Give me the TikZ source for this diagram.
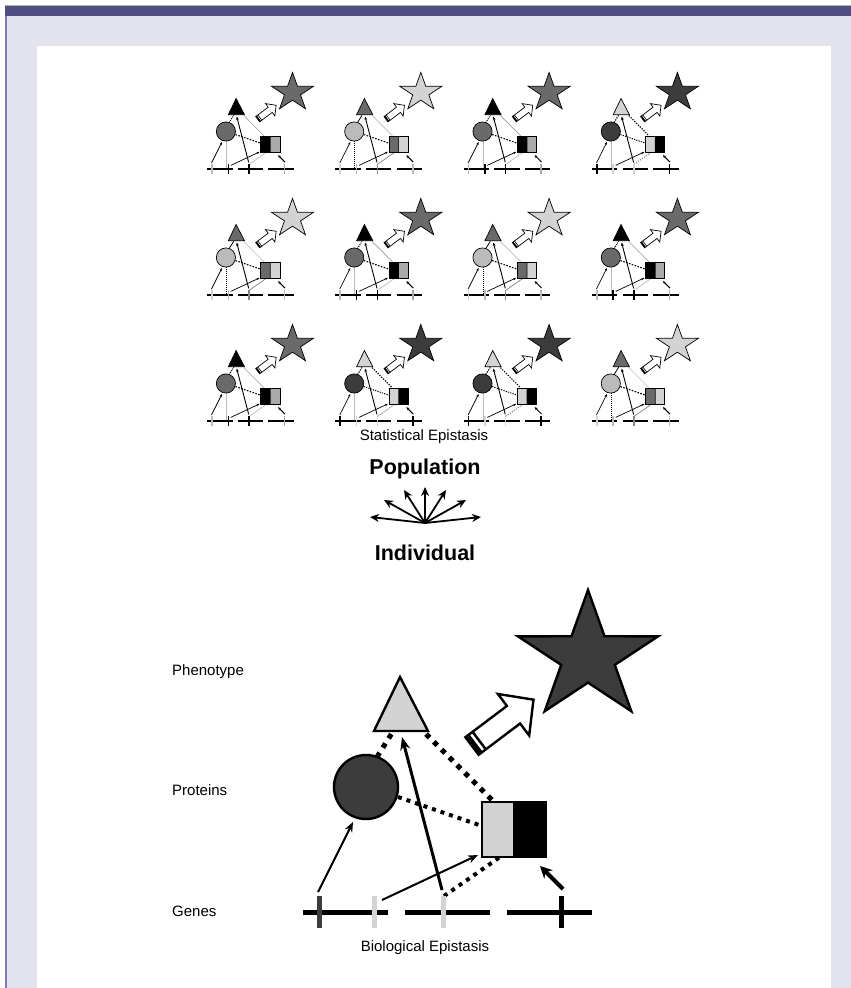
\documentclass[tikz,border=0pt]{standalone}
\usepackage{fontspec}
\setmainfont{Liberation Sans}
\usetikzlibrary{arrows.meta}
\definecolor{barcol}{HTML}{4F4E82}
\definecolor{lav}{HTML}{E3E3ED}
\definecolor{edgecol}{HTML}{7D7BAE}
\definecolor{dk}{HTML}{3C3C3C}
\definecolor{lt}{HTML}{D3D3D3}
\definecolor{md}{HTML}{6A6A6A}
\definecolor{ma}{HTML}{AAAAAA}
\definecolor{mb}{HTML}{BBBBBB}
\definecolor{mc}{HTML}{888888}
% diagram drawn in big-diagram coordinates; #1 = name prefix
\newcommand\diag[1]{%
  \coordinate (#1T1) at (400,677);\coordinate (#1T2) at (428,731);\coordinate (#1T3) at (374,731);
  \coordinate (#1C) at (366,787);
  \coordinate (#1R1) at (482,802);\coordinate (#1R2) at (514,857);\coordinate (#1R3) at (546,802);
  \coordinate (#1ctA) at (377,757);\coordinate (#1ctB) at (392,733);
  \coordinate (#1trA) at (426,734);\coordinate (#1trB) at (493,801);
  \coordinate (#1crA) at (398,797);\coordinate (#1crB) at (482,826);
  \coordinate (#1grA) at (444,896);\coordinate (#1grB) at (500,857);
  \coordinate (#1cvA) at (368,819);\coordinate (#1cvB) at (368,910);
  \draw[cv] (#1cvA) -- (#1cvB);
  \draw[ct] (#1ctA) -- (#1ctB);
  \draw[tr] (#1trA) -- (#1trB);
  \draw[cr] (#1crA) -- (#1crB);
  \draw[gr] (#1grA) -- (#1grB);
  \begin{scope}[shift={(588,657)},xscale=1.1,yscale=-1]
    \draw[outl,fill=starcol] (90:67) -- (126:25.6) -- (162:67) -- (198:25.6) -- (234:67) -- (270:25.6) -- (306:67) -- (342:25.6) -- (18:67) -- (54:25.6) -- cycle;
  \end{scope}
  \begin{scope}[shift={(472,746)},rotate=37]
    \draw[outl,fill=white] (0,-11) -- (52,-11) -- (52,-26) -- (77,0) -- (52,26) -- (52,11) -- (0,11) -- cycle;
    \fill[black] (0,-11) rectangle (5,11);
    \draw[taill] (9,-11) -- (9,11);
  \end{scope}
  \draw[outl,fill=tricol] (#1T1) -- (#1T2) -- (#1T3) -- cycle;
  \draw[outl,fill=circol] (#1C) circle[radius=32];
  \fill[rlcol] (482,802) rectangle (514,857);
  \fill[rrcol] (514,802) rectangle (546,857);
  \draw[outl] (#1R2) -- (514,802);
  \draw[outl] (482,802) rectangle (546,857);
  \coordinate (#1g1) at (319,912);\coordinate (#1g2) at (374,912);\coordinate (#1g3) at (443,912);\coordinate (#1g4) at (561,912);
  \draw[genel] (303,912) -- (388,912) (405,912) -- (490,912) (507,912) -- (592,912);
  \draw[tickl,tA] (319,896) -- (319,928);
  \draw[tickl,tB] (374,896) -- (374,928);
  \draw[tickl,tC] (443,896) -- (443,928);
  \draw[tickl,tD] (561,896) -- (561,928);
  \coordinate (#1a1A) at (318,892);\coordinate (#1a1B) at (353,822);
  \coordinate (#1a2A) at (382,900);\coordinate (#1a2B) at (478,855);
  \coordinate (#1a3A) at (442,890);\coordinate (#1a3B) at (402,737);
  \coordinate (#1a4A) at (563,889);\coordinate (#1a4B) at (540,866);
  \draw[thinar] (#1a1A) -- (#1a1B);
  \draw[thinar] (#1a2A) -- (#1a2B);
  \draw[longar] (#1a3A) -- (#1a3B);
  \draw[shortar] (#1a4A) -- (#1a4B);
}
\newcommand\setA{%
  \colorlet{tricol}{black}\colorlet{circol}{md}\colorlet{rlcol}{black}\colorlet{rrcol}{ma}\colorlet{starcol}{md}%
  \colorlet{tA}{mb}\colorlet{tB}{black}\colorlet{tC}{black}\colorlet{tD}{ma}%
  \tikzset{ct/.style={black,line width=1pt,dash pattern=on 1pt off 1pt},
    tr/.style={gray!80,line width=0.6pt},
    cr/.style={black,line width=1.1pt,dash pattern=on 1.6pt off 1.4pt},
    gr/.style={mb,line width=0.7pt},
    cv/.style={mb,line width=0.8pt}}}
\newcommand\setB{%
  \colorlet{tricol}{md}\colorlet{circol}{mb}\colorlet{rlcol}{md}\colorlet{rrcol}{lt}\colorlet{starcol}{lt}%
  \colorlet{tA}{lt}\colorlet{tB}{mb}\colorlet{tC}{mc}\colorlet{tD}{mb}%
  \tikzset{ct/.style={black,line width=0.8pt},
    tr/.style={mb,line width=0.6pt},
    cr/.style={black,line width=1.1pt,dash pattern=on 1.6pt off 1.4pt},
    gr/.style={gray,line width=0.7pt},
    cv/.style={black,line width=0.9pt,dash pattern=on 1pt off 1pt}}}
\newcommand\setC{%
  \colorlet{tricol}{lt}\colorlet{circol}{dk}\colorlet{rlcol}{lt}\colorlet{rrcol}{black}\colorlet{starcol}{dk}%
  \colorlet{tA}{black}\colorlet{tB}{lt}\colorlet{tC}{lt}\colorlet{tD}{black}%
  \tikzset{ct/.style={black,line width=1.2pt,dash pattern=on 1.2pt off 1.2pt},
    tr/.style={black,line width=1.2pt,dash pattern=on 1.2pt off 1.4pt},
    cr/.style={black,line width=1pt,dash pattern=on 1.2pt off 1.2pt},
    gr/.style={gray,line width=1pt,dash pattern=on 1.2pt off 1.2pt},
    cv/.style={mb,line width=0.8pt}}}
\tikzset{
  smallcell/.style={scale=0.3,
    outl/.style={draw=black,line width=0.7pt},
    genel/.style={black,line width=1.6pt},
    tickl/.style={line width=1.6pt},
    taill/.style={black,line width=0.6pt},
    thinar/.style={black,line width=0.7pt,-{Stealth[length=3pt,width=2.4pt]}},
    longar/.style={black,line width=0.9pt,-{Stealth[length=3.5pt,width=2.8pt]}},
    shortar/.style={black,line width=1pt,-{Stealth[length=3pt,width=2.8pt]}}},
  bigdiag/.style={
    outl/.style={draw=black,line width=2.4pt,line join=miter},
    genel/.style={black,line width=5pt},
    tickl/.style={line width=5pt},
    taill/.style={black,line width=2.5pt},
    thinar/.style={black,line width=2pt,-{Stealth[length=10pt,width=8pt]}},
    longar/.style={black,line width=3pt,-{Stealth[length=13pt,width=10pt]}},
    shortar/.style={black,line width=4pt,-{Stealth[length=12pt,width=12pt]}},
    ct/.style={black,line width=5pt,dash pattern=on 5pt off 6pt},
    tr/.style={black,line width=5pt,dash pattern=on 5pt off 6pt},
    cr/.style={black,line width=4pt,dash pattern=on 4pt off 5pt},
    gr/.style={black,line width=4pt,dash pattern=on 4pt off 5pt},
    cv/.style={draw=none}},
  lbl/.style={font=\fontsize{15}{18}\selectfont,inner sep=0pt},
  bigl/.style={font=\fontsize{21.5}{26}\selectfont\bfseries,inner sep=0pt},
  fanar/.style={black,line width=1.8pt,-{Stealth[length=9pt,width=8pt]}}
}
\begin{document}
\begin{tikzpicture}[x=1pt,y=-1pt]
\useasboundingbox (0,0) rectangle (851,988);
\fill[white] (0,0) rectangle (851,988);
\fill[lav] (7,16) rectangle (851,988);
\fill[barcol] (5,6) rectangle (851,16);
\fill[gray!60] (5,5) rectangle (851,6);
\fill[edgecol] (5,16) rectangle (7,988);
\fill[white] (37,46) rectangle (831,988);
\foreach \r/\c/\t [count=\n] in {0/0/A,0/1/B,0/2/A,0/3/C,1/0/B,1/1/A,1/2/B,1/3/A,2/0/A,2/1/C,2/2/C,2/3/B}{
  \begin{scope}[shift={(116.1+128.3*\c,-104.6+126*\r)},smallcell]
    \csname set\t\endcsname
    \diag{cell\n}
  \end{scope}
}
\begin{scope}[bigdiag]
  \colorlet{tricol}{lt}\colorlet{circol}{dk}\colorlet{rlcol}{lt}\colorlet{rrcol}{black}\colorlet{starcol}{dk}
  \colorlet{tA}{dk}\colorlet{tB}{lt}\colorlet{tC}{lt}\colorlet{tD}{black}
  \diag{big}
\end{scope}
\node[lbl] (stat) at (424,437) {Statistical Epistasis};
\node[bigl] (pop) at (425,469) {Population};
\node[bigl] (ind) at (425,553) {Individual};
\node[lbl,anchor=west] (phen) at (172,672) {Phenotype};
\node[lbl,anchor=west] (prot) at (172,790) {Proteins};
\node[lbl,anchor=west] (gen) at (172,911) {Genes};
\node[lbl] (bio) at (425,948) {Biological Epistasis};
\coordinate (fo) at (425,523);
\coordinate (f1) at (370,517);\coordinate (f2) at (384,500);\coordinate (f3) at (404,490);
\coordinate (f4) at (425,487);\coordinate (f5) at (446,490);\coordinate (f6) at (466,500);\coordinate (f7) at (481,517);
\foreach \k in {1,...,7}{\draw[fanar] (fo) -- (f\k);}
\end{tikzpicture}
\end{document}
